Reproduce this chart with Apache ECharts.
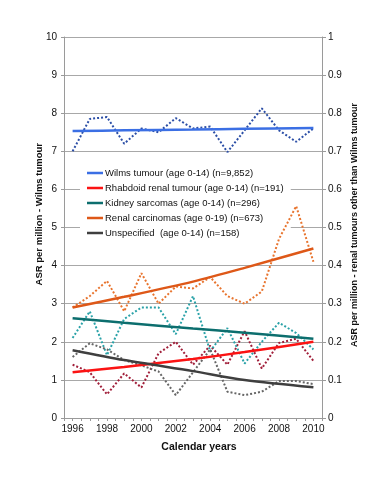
<!DOCTYPE html>
<html><head><meta charset="utf-8">
<script src="https://cdn.jsdelivr.net/npm/echarts@6/dist/echarts.min.js"></script>
<style>html,body{margin:0;padding:0;background:#fff}#c{width:392px;height:480px}</style>
</head><body><div id="c"></div>
<script>
const years = [1996,1997,1998,1999,2000,2001,2002,2003,2004,2005,2006,2007,2008,2009,2010];
const wilmsObs     = [7.0, 7.85, 7.9, 7.2, 7.6, 7.5, 7.87, 7.6, 7.65, 6.98, 7.55, 8.13, 7.55, 7.25, 7.6];
const rhabdoidObs  = [0.14, 0.12, 0.062, 0.117, 0.08, 0.17, 0.20, 0.14, 0.19, 0.14, 0.228, 0.13, 0.197, 0.208, 0.15];
const sarcomaObs   = [0.21, 0.28, 0.165, 0.26, 0.29, 0.29, 0.22, 0.32, 0.175, 0.236, 0.143, 0.20, 0.25, 0.223, 0.18];
const carcinomaObs = [0.29, 0.32, 0.36, 0.28, 0.38, 0.30, 0.345, 0.34, 0.37, 0.32, 0.30, 0.332, 0.47, 0.556, 0.41];
const unspecObs    = [0.16, 0.196, 0.18, 0.152, 0.138, 0.122, 0.06, 0.12, 0.18, 0.069, 0.06, 0.069, 0.097, 0.097, 0.089];

const trendYears     = [1996, 1999, 2003, 2006, 2010];
const wilmsTrend     = [7.53, 7.55, 7.57, 7.59, 7.61];
const rhabdoidTrend  = [0.12, 0.134, 0.155, 0.173, 0.20];
const sarcomaTrend   = [0.262, 0.25, 0.235, 0.224, 0.208];
const carcinomaTrend = [0.29, 0.318, 0.358, 0.394, 0.445];
const unspecTrend    = [0.178, 0.152, 0.123, 0.10, 0.081];

const names = [
  'Wilms tumour (age 0-14) (n=9,852)',
  'Rhabdoid renal tumour (age 0-14) (n=191)',
  'Kidney sarcomas (age 0-14) (n=296)',
  'Renal carcinomas (age 0-19) (n=673)',
  'Unspecified  (age 0-14) (n=158)'
];
const xTickLabels = [1996,1998,2000,2002,2004,2006,2008,2010];

const FONT = '"Liberation Sans",Arial,sans-serif';
const pair = (xs, ys) => xs.map((x, i) => [x, ys[i]]);

function dotted(name, ys, color, yAxisIndex) {
  return { name: name, type: 'line', yAxisIndex: yAxisIndex, data: pair(years, ys), showSymbol: false,
    lineStyle: { color: color, width: 2, type: [2, 2] }, itemStyle: { color: color }, z: 2, silent: true };
}
function trend(name, ys, color, yAxisIndex) {
  return { name: name, type: 'line', yAxisIndex: yAxisIndex, data: pair(trendYears, ys), showSymbol: false,
    smooth: 0.3, lineStyle: { color: color, width: 2.5 }, itemStyle: { color: color }, z: 3, silent: true };
}

const chart = echarts.init(document.getElementById('c'));
chart.setOption({
  animation: false,
  backgroundColor: '#fff',
  textStyle: { fontFamily: FONT },
  grid: { left: 64, right: 70, top: 37, bottom: 62 },
  legend: {
    data: names, orient: 'vertical', left: 80, top: 164, z: 1,
    backgroundColor: '#fff', padding: [3, 7, 4, 7],
    icon: 'rect', itemWidth: 16, itemHeight: 2.5, itemGap: 3,
    textStyle: { fontFamily: FONT, fontSize: 9.5, color: '#111', padding: [0, 0, 0, -3], lineHeight: 12 },
    selectedMode: false
  },
  xAxis: {
    type: 'value', min: 1995.5, max: 2010.5, interval: 0.5,
    axisLine: { lineStyle: { color: '#9a9a9a', width: 1 } },
    axisTick: { show: true, length: 3, lineStyle: { color: '#9a9a9a' } },
    splitLine: { show: false },
    axisLabel: { color: '#111', fontSize: 10, fontFamily: FONT, margin: 6,
      formatter: v => (xTickLabels.indexOf(v) >= 0 ? String(v) : '') },
    name: 'Calendar years', nameLocation: 'middle', nameGap: 24,
    nameTextStyle: { fontWeight: 'bold', fontSize: 10.5, color: '#111', fontFamily: FONT, padding: [0, 0, 0, 12] }
  },
  yAxis: [
    { type: 'value', min: 0, max: 10, interval: 1, position: 'left',
      axisLine: { show: true, lineStyle: { color: '#9a9a9a' } },
      axisTick: { show: true, length: 3, lineStyle: { color: '#9a9a9a' } },
      splitLine: { lineStyle: { color: '#a8a8a8', width: 1 } },
      axisLabel: { color: '#111', fontSize: 10, fontFamily: FONT, margin: 7 } },
    { type: 'value', min: 0, max: 1, interval: 0.1, position: 'right',
      axisLine: { show: true, lineStyle: { color: '#9a9a9a' } },
      axisTick: { show: true, length: 4, lineStyle: { color: '#9a9a9a' } },
      splitLine: { show: false },
      axisLabel: { color: '#111', fontSize: 10, fontFamily: FONT, margin: 6,
        formatter: v => String(Math.round(v * 10) / 10) } }
  ],
  graphic: [
    { type: 'text', left: 34, top: 143, rotation: Math.PI / 2,
      style: { text: 'ASR per million - Wilms tumour', font: 'bold 9.5px ' + FONT, fill: '#111' } },
    { type: 'text', left: 350, top: 103, rotation: Math.PI / 2,
      style: { text: 'ASR per million - renal tumours other than Wilms tumour', font: 'bold 9px ' + FONT, fill: '#111' } }
  ],
  series: [
    dotted('Wilms obs', wilmsObs, '#2b4ea6', 0),
    dotted('Rhabdoid obs', rhabdoidObs, '#a11f3a', 1),
    dotted('Sarcoma obs', sarcomaObs, '#2aa2a8', 1),
    dotted('Carcinoma obs', carcinomaObs, '#e8742e', 1),
    dotted('Unspecified obs', unspecObs, '#666666', 1),
    trend(names[0], wilmsTrend, '#3b6fe4', 0),
    trend(names[1], rhabdoidTrend, '#fb1313', 1),
    trend(names[2], sarcomaTrend, '#0c6e6e', 1),
    trend(names[3], carcinomaTrend, '#de5818', 1),
    trend(names[4], unspecTrend, '#3f3f3f', 1)
  ]
});
</script></body></html>
